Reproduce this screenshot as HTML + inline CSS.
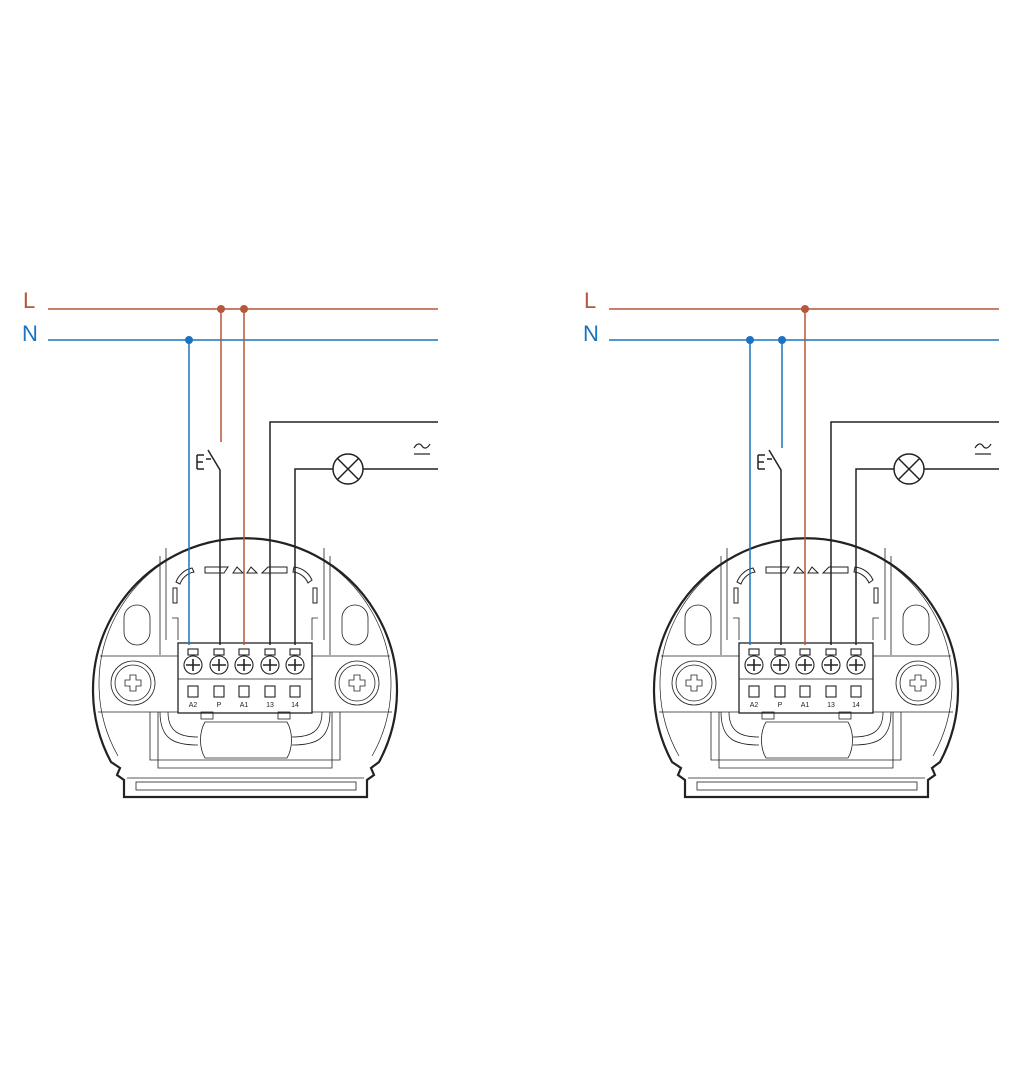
<!DOCTYPE html>
<html><head><meta charset="utf-8"><style>
html,body{margin:0;padding:0;background:#fff}
svg{display:block}
text{font-family:"Liberation Sans",sans-serif}
</style></head><body>
<svg width="1024" height="1088" viewBox="0 0 1024 1088" xmlns="http://www.w3.org/2000/svg">
<defs>
<g id="dev">
  <g fill="none" stroke="#222">
    <path d="M111,762 A152,152 0 1 1 379,762 L371,768 L374,775 L367,780 L367,797 L124,797 L124,780 L117,775 L120,768 Z" stroke-width="2.2"/>
    <path d="M118,756 A146,146 0 1 1 372,756" stroke-width="0.7"/>
    <g stroke-width="0.8">
      <rect x="136" y="782" width="220" height="8"/>
      <line x1="127" y1="778" x2="364" y2="778"/>
      <line x1="160" y1="556" x2="160" y2="655"/>
      <line x1="330" y1="556" x2="330" y2="655"/>
      <line x1="166" y1="548" x2="166" y2="640"/>
      <line x1="324" y1="548" x2="324" y2="640"/>
      <line x1="100" y1="656" x2="178" y2="656"/>
      <line x1="312" y1="656" x2="390" y2="656"/>
      <line x1="98" y1="712" x2="178" y2="712"/>
      <line x1="312" y1="712" x2="392" y2="712"/>
      <rect x="124" y="605" width="26" height="40" rx="13"/>
      <rect x="342" y="605" width="26" height="40" rx="13"/>
      <circle cx="133" cy="683" r="22"/>
      <circle cx="133" cy="683" r="18"/>
      <path d="M130,675 h6 v5 h5 v6 h-5 v5 h-6 v-5 h-5 v-6 h5 Z"/>
      <circle cx="357" cy="683" r="22"/>
      <circle cx="357" cy="683" r="18"/>
      <path d="M354,675 h6 v5 h5 v6 h-5 v5 h-6 v-5 h-5 v-6 h5 Z"/>
      <g stroke-width="1">
        <path d="M173,603 L173,588 L177,588 L177,603 Z"/>
        <path d="M176,582 A22,22 0 0 1 192,568 L194,572 A18,18 0 0 0 180,584 Z"/>
        <path d="M205,567 L228,567 L224,573 L205,573 Z"/>
        <path d="M237,567 L243,573 L233,573 Z"/>
        <path d="M251,567 L257,573 L247,573 Z"/>
        <path d="M268,567 L287,567 L287,573 L262,573 Z"/>
        <path d="M294,567 A22,22 0 0 1 312,580 L308,583 A18,18 0 0 0 293,572 Z"/>
        <path d="M313,588 L317,588 L317,603 L313,603 Z"/>
      </g>
      <path d="M172,618 L178,618 L178,640 M318,618 L312,618 L312,640"/>
      <path d="M150,712 L150,760 L340,760 L340,712"/>
      <path d="M158,712 L158,768 L332,768 L332,712" />
      <path d="M160,712 C160,740 175,745 198,745 M330,712 C330,740 315,745 292,745"/>
      <path d="M168,712 C168,732 180,737 198,737 M322,712 C322,732 310,737 292,737"/>
      <path d="M205,722 L287,722 C293,732 293,748 287,758 L205,758 C199,748 199,732 205,722 Z"/>
      <rect x="201" y="712" width="12" height="7"/>
      <rect x="278" y="712" width="12" height="7"/>
    </g>
    <rect x="178" y="643" width="134" height="70" stroke-width="1.3"/>
    <line x1="178" y1="679" x2="312" y2="679" stroke-width="0.8"/>
    <g stroke-width="1.1">
      <rect x="188" y="649" width="10" height="6"/><rect x="214" y="649" width="10" height="6"/><rect x="239" y="649" width="10" height="6"/><rect x="265" y="649" width="10" height="6"/><rect x="290" y="649" width="10" height="6"/>
      <circle cx="193" cy="665" r="9"/><circle cx="219" cy="665" r="9"/><circle cx="244" cy="665" r="9"/><circle cx="270" cy="665" r="9"/><circle cx="295" cy="665" r="9"/>
      <path d="M186,665h14M193,659v12M212,665h14M219,659v12M237,665h14M244,659v12M263,665h14M270,659v12M288,665h14M295,659v12" stroke-width="1.6"/>
      <rect x="188" y="686" width="10" height="11"/><rect x="214" y="686" width="10" height="11"/><rect x="239" y="686" width="10" height="11"/><rect x="265" y="686" width="10" height="11"/><rect x="290" y="686" width="10" height="11"/>
    </g>
  </g>
  <g font-size="7" fill="#222" text-anchor="middle">
    <text x="193" y="707">A2</text><text x="219" y="707">P</text><text x="244" y="707">A1</text><text x="270" y="707">13</text><text x="295" y="707">14</text>
  </g>
  <g fill="none" stroke="#222" stroke-width="1.5">
    <path d="M270,645 L270,422 L438,422"/>
    <path d="M295,645 L295,469 L333,469"/>
    <circle cx="348" cy="469" r="15"/>
    <path d="M337,458 L359,480 M359,458 L337,480"/>
    <path d="M363,469 L438,469"/>
    <path d="M220,645 L220,470 L208,450"/>
    <path d="M197,455 L197,469 M197,455 L204,455 M197,462 L203,462 M197,469 L204,469 M206,459 L211,459"/>
    <path d="M414,454 L430,454" stroke-width="1.2"/>
    <path d="M414,448 C417,443 420,443 422,446 C424,449 427,449 430,444" stroke-width="1.2"/>
  </g>
</g>
</defs>

<g>
  <text x="23" y="308" font-size="22" fill="#b5573a">L</text>
  <text x="22" y="341" font-size="22" fill="#1a73c0">N</text>
  <line x1="48" y1="309" x2="438" y2="309" stroke="#b5573a" stroke-width="1.5"/>
  <line x1="48" y1="340" x2="438" y2="340" stroke="#1a73c0" stroke-width="1.5"/>
  <use href="#dev"/>
  <path d="M189,340 L189,645" stroke="#1a73c0" stroke-width="1.5" fill="none"/>
  <path d="M221,309 L221,442" stroke="#b5573a" stroke-width="1.5" fill="none"/>
  <path d="M244,309 L244,645" stroke="#b5573a" stroke-width="1.5" fill="none"/>
  <circle cx="221" cy="309" r="4" fill="#b5573a"/>
  <circle cx="244" cy="309" r="4" fill="#b5573a"/>
  <circle cx="189" cy="340" r="4" fill="#1a73c0"/>
</g>

<g transform="translate(561,0)">
  <text x="23" y="308" font-size="22" fill="#b5573a">L</text>
  <text x="22" y="341" font-size="22" fill="#1a73c0">N</text>
  <line x1="48" y1="309" x2="438" y2="309" stroke="#b5573a" stroke-width="1.5"/>
  <line x1="48" y1="340" x2="438" y2="340" stroke="#1a73c0" stroke-width="1.5"/>
  <use href="#dev"/>
  <path d="M189,340 L189,645" stroke="#1a73c0" stroke-width="1.5" fill="none"/>
  <path d="M221,340 L221,448" stroke="#1a73c0" stroke-width="1.5" fill="none"/>
  <path d="M244,309 L244,645" stroke="#b5573a" stroke-width="1.5" fill="none"/>
  <circle cx="244" cy="309" r="4" fill="#b5573a"/>
  <circle cx="221" cy="340" r="4" fill="#1a73c0"/>
  <circle cx="189" cy="340" r="4" fill="#1a73c0"/>
</g>
</svg>
</body></html>
